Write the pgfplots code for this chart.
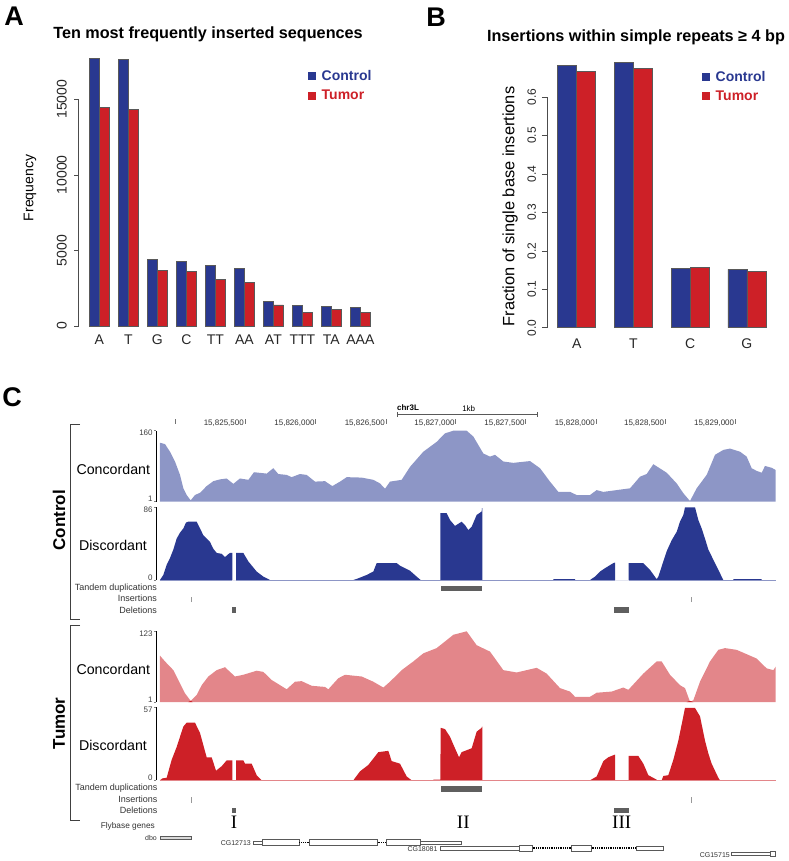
\documentclass[border=0pt]{standalone}
\usepackage{fontspec}
\setmainfont{Liberation Sans}
\newfontfamily\serifroman{Liberation Serif}
\usepackage{pgfplots}
\pgfplotsset{compat=1.18}

\definecolor{ctrl}{RGB}{41,56,144}
\definecolor{tum}{RGB}{205,32,39}
\definecolor{ctrllight}{RGB}{141,150,198}
\definecolor{tumlight}{RGB}{227,134,138}
\definecolor{featgrey}{RGB}{95,95,95}
\newcommand{\fs}[1]{\fontsize{#1}{#1}\selectfont}

% 1pt in the file = 1px in the reference
\pgfplotsset{
  every axis/.append style={scale only axis, /pgf/number format/assume math mode=true},
  every axis title shift=0pt,
  barpanel/.style={
    ybar=0pt, enlargelimits=false, clip=false,
    axis y line=left, axis x line=bottom, axis line style={-},
    x axis line style={draw=none}, xtick style={draw=none},
    y axis line style={draw=black!70, line width=.6pt},
    ytick style={draw=black!70, line width=.6pt},
    tick align=outside,
    legend style={draw=none, fill=none, inner sep=0pt, anchor=north west, row sep=4pt,
      /tikz/every odd column/.append style={column sep=3.5pt}},
    legend cell align=left,
  },
  sqleg/.style={legend image code/.code={\fill[##1, draw=none] (0pt,-4pt) rectangle (8pt,4pt);}},
  cbar/.style={fill=ctrl, draw=black!65, line width=.5pt, sqleg},
  tbar/.style={fill=tum, draw=black!65, line width=.5pt, sqleg},
  track/.style={
    width=619.33pt, xmin=469, xmax=2327,
    axis x line=none, axis y line=left, axis line style={-},
    y axis line style={line width=.8pt}, ytick style={line width=.8pt},
    tick align=outside, major tick length=2.5pt, clip=false,
    yticklabel style={font=\fs{8}, inner sep=1pt, text=black!75, yshift=2.5pt},
    extra y tick style={yticklabel style={yshift=-5pt}},
  },
  feat/.style={width=619.33pt, xmin=469, xmax=2327, ymin=0, ymax=2, hide axis, clip=false},
  tand/.style={line width=5.3pt, color=featgrey},
  del/.style={line width=5.3pt, color=featgrey, unbounded coords=jump},
  ins/.style={line width=.8pt, color=black!40, unbounded coords=jump},
  generect/.style={draw=black!65, line width=.8pt, fill=white},
  intron/.style={draw=black, line width=1.8pt, dash pattern=on 1pt off .8pt},
}
\newcommand{\rect}[5][generect]{\addplot[#1] coordinates {(#2,#4)(#3,#4)(#3,#5)(#2,#5)(#2,#4)};}

\begin{document}
\begin{tikzpicture}
\useasboundingbox (0pt,0pt) rectangle (788pt,-861pt);

% ---- panel A
\begin{axis}[barpanel,
  at={(78.5pt,-326pt)}, anchor=south west,
  width=301.5pt, height=226.7pt,
  bar width=10pt,
  xmin=-0.7207, xmax=9.676, ymin=0, ymax=15000,
  ytick={0,5000,10000,15000},
  major tick length=4.5pt,
  scaled y ticks=false,
  /pgf/number format/1000 sep={},
  yticklabel style={xshift=-7pt, rotate=90, anchor=south, inner sep=0pt, font=\fs{14}, text=black!85},
  xtick={0,1,2,3,4,5,6,7,8,9},
  xticklabels={A,T,G,C,TT,AA,AT,TTT,TA,AAA},
  xticklabel style={font=\fs{14}, inner sep=0pt, yshift=-4pt, text=black!85},
  ylabel={Frequency},
  ylabel style={at={(axis description cs:-0.161,0.609)}, anchor=center, font=\fs{14}},
  title={\bfseries Ten most frequently inserted sequences},
  title style={at={(axis description cs:0.4295,1.288)}, anchor=center, font=\fs{16.2}},
  legend style={at={(axis description cs:0.7612,1.136)}, font=\bfseries\fs{14}},
]
\addplot[cbar] coordinates {(0,17725)(1,17660)(2,4385)(3,4280)(4,4015)(5,3790)(6,1630)(7,1345)(8,1280)(9,1255)};
\addplot[tbar] coordinates {(0,14460)(1,14310)(2,3700)(3,3615)(4,3085)(5,2865)(6,1390)(7,925)(8,1105)(9,905)};
\addlegendentry{\textcolor{ctrl}{Control}}
\addlegendentry{\textcolor{tum}{Tumor}}
\end{axis}

% ---- panel B
\begin{axis}[barpanel,
  at={(547.3pt,-327.7pt)}, anchor=south west,
  width=232.7pt, height=230.7pt,
  bar width=19pt,
  xmin=-0.5185, xmax=3.5855, ymin=0, ymax=0.6,
  ytick={0,0.1,0.2,0.3,0.4,0.5,0.6},
  major tick length=5.5pt,
  /pgf/number format/fixed, /pgf/number format/fixed zerofill, /pgf/number format/precision=1,
  yticklabel style={xshift=-5.6pt, rotate=90, anchor=south, inner sep=0pt, font=\fs{12}, text=black!85},
  xtick={0,1,2,3},
  xticklabels={A,T,C,G},
  xticklabel style={font=\fs{14}, inner sep=0pt, yshift=-5pt, text=black!85},
  ylabel={Fraction of single base insertions},
  ylabel style={at={(axis description cs:-0.160,0.525)}, anchor=center, font=\fs{16.4}},
  title={\bfseries Insertions within simple repeats ≥ 4 bp},
  title style={at={(axis description cs:0.381,1.26)}, anchor=center, font=\fs{16.2}},
  legend style={at={(axis description cs:0.6648,1.121)}, font=\bfseries\fs{14}},
]
\addplot[cbar] coordinates {(0,0.6825)(1,0.690)(2,0.1544)(3,0.152)};
\addplot[tbar] coordinates {(0,0.667)(1,0.6746)(2,0.157)(3,0.1466)};
\addlegendentry{\textcolor{ctrl}{Control}}
\addlegendentry{\textcolor{tum}{Tumor}}
\end{axis}

% ---- panel C: coordinate ruler
\begin{axis}[
  at={(156.33pt,-421pt)}, anchor=south west,
  width=619.33pt, height=1pt, xmin=469, xmax=2327, ymin=0, ymax=1,
  axis y line=none, axis x line=bottom, axis line style={-, draw=none},
  xtick={526,735,947,1158,1367,1577,1788,1996,2206},
  xticklabels={{},{15,825,500},{15,826,000},{15,826,500},{15,827,000},{15,827,500},{15,828,000},{15,828,500},{15,829,000}},
  xticklabel style={anchor=east, inner sep=0pt, xshift=-1pt, yshift=0pt, font=\fs{8}, text=black!80},
  tick align=center, major tick length=5pt,
  xtick style={draw=black!55, line width=.5pt},
]
\addplot[draw=none] coordinates {(526,0)(2206,0)};
\end{axis}

% ---- control concordant
\begin{axis}[track, at={(156.33pt,-501.7pt)}, anchor=south west, height=71pt,
  ymin=1, ymax=160, ytick={1}, extra y ticks={160}]
\addplot[fill=ctrllight, draw=none] coordinates {(480,1)(480,133)(495,130)(510,113)(525,91)(540,61)(550,31)(560,16)(572,4)(585,16)(600,21)(620,36)(640,47)(660,51)(680,53)(700,41)(720,53)(745,50)(762,67)(800,64)(820,76)(835,63)(860,61)(875,56)(900,63)(920,61)(945,46)(975,47)(997,36)(1020,46)(1040,56)(1085,55)(1120,50)(1140,42)(1155,30)(1170,46)(1205,50)(1230,79)(1270,113)(1310,135)(1335,154)(1360,160)(1400,160)(1420,147)(1450,109)(1470,102)(1485,106)(1510,91)(1540,88)(1590,92)(1620,76)(1650,46)(1675,23)(1710,23)(1730,16)(1770,16)(1790,27)(1810,23)(1890,31)(1920,57)(1940,63)(1960,85)(2000,66)(2030,42)(2050,20)(2070,2.5)(2090,31)(2120,61)(2145,106)(2170,117)(2190,120)(2220,113)(2240,102)(2255,76)(2270,70)(2285,66)(2295,81)(2315,77)(2327,72)(2327,1)};
\end{axis}

% ---- control discordant
\begin{axis}[track, at={(156.33pt,-580pt)}, anchor=south west, height=72.7pt,
  ymin=0, ymax=86, ytick={0}, extra y ticks={86}]
\addplot[fill=ctrl, draw=none] coordinates {(480,0)(490,6)(500,18)(510,26)(520,36)(530,49)(540,56)(550,61)(558,68)(565,69)(590,69)(600,61)(610,53)(620,49)(630,45)(640,37)(650,32)(665,31)(675,27)(683,30)(690,32)(697,32)(697,0)(708,0)(708,32)(730,32)(745,22)(770,10)(790,4)(810,0)(1060,0)(1075,2)(1100,6)(1120,10)(1130,20)(1190,20)(1200,17)(1230,11)(1250,4)(1262,0)(1321,0)(1321,79)(1340,79)(1350,71)(1365,64)(1385,69)(1395,65)(1405,59)(1415,63)(1430,77)(1445,81)(1446,85)(1447,85)(1447,0)(1660,0)(1660,1)(1725,1)(1725,0)(1770,0)(1785,4)(1800,10)(1815,14)(1840,20)(1844,20.5)(1845,20.5)(1845,0)(1886,0)(1886,20)(1930,20)(1950,12)(1970,1)(1975,4)(1985,16)(2000,34)(2015,47)(2030,57)(2040,69)(2050,77)(2055,86)(2085,86)(2095,71)(2105,61)(2115,49)(2125,36)(2135,28)(2150,16)(2165,4)(2170,0)(2200,0)(2200,1)(2285,1)(2285,0)(2327,0)};
\addplot[draw=ctrllight, line width=.7pt, unbounded coords=jump] coordinates {(480,0)(697,0)(700,nan)(708,0)(1845,0)(1850,nan)(1886,0)(2327,0)};
\end{axis}

% ---- tumor concordant
\begin{axis}[track, at={(156.33pt,-702pt)}, anchor=south west, height=70.7pt,
  ymin=1, ymax=123, ytick={1}, extra y ticks={123}]
\addplot[fill=tumlight, draw=none] coordinates {(480,1)(480,81)(495,71)(520,56)(540,33)(555,16)(572,3)(590,13)(605,30)(625,45)(650,56)(675,61)(690,53)(705,45)(730,48)(770,55)(790,53)(815,39)(860,23)(885,36)(905,37)(935,29)(975,27)(985,23)(1015,42)(1035,48)(1085,45)(1120,36)(1150,26)(1170,36)(1205,56)(1240,71)(1270,85)(1310,94)(1360,117)(1400,123)(1430,99)(1470,88)(1510,56)(1550,52)(1610,60)(1640,50)(1680,25)(1710,19)(1725,10)(1770,10)(1790,17)(1835,19)(1870,26)(1885,22)(1930,50)(1970,71)(1985,71)(2010,48)(2040,30)(2055,25)(2070,1.5)(2080,4)(2100,36)(2130,71)(2155,91)(2175,94)(2210,91)(2270,76)(2300,59)(2320,56)(2327,62)(2327,1)};
\addplot[fill=tum, draw=none] coordinates {(565,1)(572,3)(578,1)};
\addplot[fill=tum, draw=none] coordinates {(2060,1)(2070,3)(2080,1)};
\end{axis}

% ---- tumor discordant
\begin{axis}[track, at={(156.33pt,-780.3pt)}, anchor=south west, height=73pt,
  ymin=0, ymax=57, ytick={0}, extra y ticks={57}]
\addplot[fill=tum, draw=none] coordinates {(480,0)(487,1.5)(500,2)(515,16)(530,26)(550,42)(560,45)(585,45)(600,37)(620,18)(635,18)(648,7.5)(665,11)(680,15.6)(697,15.6)(697,0)(708,0)(708,15.6)(730,15.6)(735,13)(755,13)(770,4)(785,0)(1060,0)(1080,7)(1105,12)(1135,22)(1165,23)(1175,15)(1200,13)(1220,3)(1235,0)(1300,0)(1300,.5)(1321,.5)(1322,41)(1335,40)(1350,34)(1365,25)(1377,18)(1385,22)(1415,25)(1430,38)(1445,41)(1446,42)(1447,42)(1447,0)(1770,0)(1790,3)(1810,15)(1825,18)(1844,20)(1845,20)(1845,0)(1886,0)(1886,19)(1915,19)(1930,13)(1945,4)(1970,.5)(1971,0)(1985,0)(1990,3.4)(2005,4)(2020,16)(2035,31)(2050,50)(2055,56.5)(2085,56.5)(2100,50)(2115,31)(2125,21)(2135,13)(2155,2)(2160,0)(2327,0)};
\addplot[draw=tumlight, line width=.7pt] coordinates {(480,0)(2327,0)};
\end{axis}

% ---- feature rows
\begin{axis}[feat, at={(156.33pt,-610pt)}, anchor=south west, height=21.3pt]
\addplot[tand] coordinates {(1323,2)(1445,2)};
\addplot[ins] coordinates {(574,.75)(574,1.25)(574,nan)(2073,.75)(2073,1.25)};
\addplot[del] coordinates {(696,0)(709,0)(800,nan)(1843,0)(1888,0)};
\end{axis}
\begin{axis}[feat, at={(156.33pt,-810.7pt)}, anchor=south west, height=21.7pt]
\addplot[tand] coordinates {(1323,2)(1445,2)};
\addplot[ins] coordinates {(574,.75)(574,1.25)(574,nan)(2073,.75)(2073,1.25)};
\addplot[del] coordinates {(696,0)(709,0)(800,nan)(1843,0)(1888,0)};
\end{axis}

% ---- gene models, y in reference pixels from the top
\begin{axis}[hide axis, at={(156.33pt,-861pt)}, anchor=south west,
  width=619.33pt, height=31pt, xmin=469, xmax=2327, ymin=830, ymax=861, y dir=reverse, clip=false]
\rect[generect, fill=black!15]{481}{574}{836.3}{839.7}
% CG12713
\rect{760}{787}{841}{844}
\rect{787}{898}{839.7}{845.3}
\addplot[intron] coordinates {(898,842.5)(927,842.5)};
\rect{927}{1133}{839.7}{845.3}
\addplot[intron] coordinates {(1133,842.5)(1158,842.5)};
\rect{1158}{1262}{839.7}{845.3}
\rect{1262}{1385}{841}{844}
% CG18081
\rect{1320}{1558}{846.7}{850}
\rect{1558}{1598}{845.7}{851}
\addplot[intron] coordinates {(1598,848.3)(1713,848.3)};
\rect{1713}{1775}{845.7}{851}
\addplot[intron] coordinates {(1775,848.3)(1908,848.3)};
\rect{1908}{1989}{846.7}{850}
% CG15715
\rect{2195}{2312}{852.3}{855.7}
\rect{2312}{2327}{851.3}{856.7}
\end{axis}

% ---- panel letters
\node[font=\bfseries\fs{27}] at (14pt,-16pt) {A};
\node[font=\bfseries\fs{27}] at (436pt,-17pt) {B};
\node[font=\bfseries\fs{27}] at (12pt,-397pt) {C};

% ---- ruler annotation
\node[font=\bfseries\fs{8}] at (408pt,-408pt) {chr3L};
\node[font=\fs{8}] at (468.7pt,-409pt) {1kb};
\draw[black!65, line width=.5pt] (397pt,-412pt) -- (397pt,-416.5pt) (397pt,-414.3pt) -- (537.7pt,-414.3pt) (537.7pt,-412pt) -- (537.7pt,-416.5pt);

% ---- brackets and group labels
\draw[black!75, line width=1pt] (80pt,-424pt) -- (70pt,-424pt) -- (70pt,-619pt) -- (80pt,-619pt);
\draw[black!75, line width=1pt] (80pt,-625pt) -- (70pt,-625pt) -- (70pt,-820pt) -- (80pt,-820pt);
\node[font=\bfseries\fs{17}, rotate=90] at (59pt,-520.3pt) {Control};
\node[font=\bfseries\fs{17}, rotate=90] at (59pt,-723.3pt) {Tumor};
\node[font=\fs{14.2}] at (113.3pt,-469pt) {Concordant};
\node[font=\fs{14.2}] at (113pt,-545pt) {Discordant};
\node[font=\fs{14.2}] at (113.3pt,-669.3pt) {Concordant};
\node[font=\fs{14.2}] at (113pt,-745.3pt) {Discordant};

% ---- row labels
\begin{scope}[every node/.style={anchor=east, inner sep=0pt, text=black!80, font=\fs{9}}]
\node at (157pt,-587.7pt) {Tandem duplications};
\node at (157pt,-598.7pt) {Insertions};
\node at (157pt,-610pt) {Deletions};
\node at (157.5pt,-788pt) {Tandem duplications};
\node at (157.5pt,-799pt) {Insertions};
\node at (157.5pt,-810pt) {Deletions};
\node[font=\fs{8.3}] at (155pt,-826.7pt) {Flybase genes};
\node[font=\fs{7}] at (157pt,-838.3pt) {dbo};
\node[font=\fs{7}] at (251pt,-842.7pt) {CG12713};
\node[font=\fs{7}] at (437.7pt,-849.3pt) {CG18081};
\node[font=\fs{7}] at (730pt,-855pt) {CG15715};
\end{scope}

% ---- breakpoint numbers
\node[font=\serifroman\fs{19}] at (234pt,-822.5pt) {I};
\node[font=\serifroman\fs{19}] at (463.3pt,-822.5pt) {II};
\node[font=\serifroman\fs{19}] at (621.7pt,-822.5pt) {III};
\end{tikzpicture}
\end{document}
